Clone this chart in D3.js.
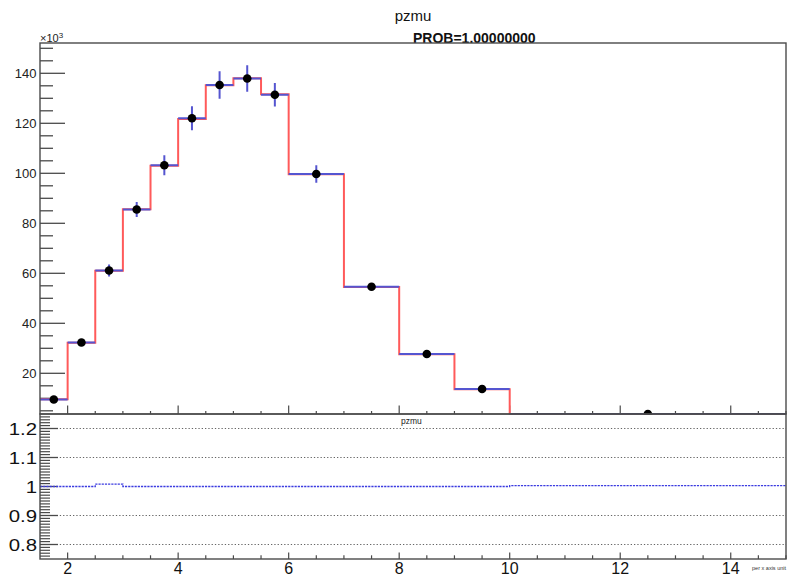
<!DOCTYPE html>
<html>
<head>
<meta charset="utf-8">
<script src="https://cdn.jsdelivr.net/npm/d3@7"></script>
<style>
  html, body { margin: 0; padding: 0; background: #fff; }
  svg { display: block; font-family: "Liberation Sans", Arial, Helvetica, sans-serif; }
</style>
</head>
<body>
<svg id="chart" width="788" height="577"></svg>
<script>
// ---------------- data ----------------
const binEdges   = [1.5, 2, 2.5, 3, 3.5, 4, 4.5, 5, 5.5, 6, 7, 8, 9, 10, 15];
const mcValues   = [9.6, 32.2, 61.0, 85.6, 103.0, 121.7, 135.2, 138.0, 131.6, 99.6, 54.5, 27.6, 13.6, 3.7]; // x10^3
const dataValues = [9.5, 32.3, 61.1, 85.5, 103.2, 122.0, 135.3, 137.9, 131.4, 99.7, 54.6, 27.7, 13.7, 3.7]; // x10^3
const dataErrors = [0.4, 1.3, 2.4, 3.0, 4.0, 4.8, 5.5, 5.3, 4.7, 3.5, 1.2, 0.6, 0.3, 0.1];
const ratioValues = [1.0, 1.0, 1.008, 1.0, 1.0, 1.0, 1.0, 1.0, 1.0, 1.0, 1.0, 1.0, 1.0, 1.003];
const upperYTicks = [20, 40, 60, 80, 100, 120, 140];
const lowerYTicks = [0.8, 0.9, 1, 1.1, 1.2];
const xTickLabels = [2, 4, 6, 8, 10, 12, 14];
const gridValues = [0.8, 0.9, 1.1, 1.2];

// ---------------- layout ----------------
const svg = d3.select("#chart");
const L = 40, R = 786;
const upTop = 43, upBot = 414, loTop = 414, loBot = 559;

const x = d3.scaleLinear().domain([1.5, 15]).range([L, R]);
const yUp = d3.scaleLinear().domain([3.72, 152.12]).range([upBot, upTop]);
const yLo = d3.scaleLinear().domain([0.75, 1.25]).range([loBot, loTop]);

const axisColor = "#4a4a4a";
const red = "#ff5a5a";
const blue = "#5555d0";

// clip paths
const defs = svg.append("defs");
defs.append("clipPath").attr("id", "clipUp").append("rect")
  .attr("x", L).attr("y", upTop).attr("width", R - L).attr("height", upBot - upTop + 0.5);
defs.append("clipPath").attr("id", "clipLo").append("rect")
  .attr("x", L).attr("y", loTop).attr("width", R - L).attr("height", loBot - loTop);

// ---------------- titles ----------------
svg.append("text").attr("x", 413).attr("y", 21).attr("text-anchor", "middle")
  .attr("font-size", 15).attr("fill", "#111").text("pzmu");
svg.append("text").attr("x", 413).attr("y", 42.5)
  .attr("font-size", 14).attr("font-weight", "bold").attr("fill", "#111").text("PROB=1.00000000");
const mult = svg.append("text").attr("x", 40).attr("y", 41.5).attr("font-size", 11).attr("fill", "#222");
mult.append("tspan").text("\u00d710");
mult.append("tspan").attr("font-size", 8).attr("dy", -4).text("3");

// ---------------- upper pad ----------------
const gUp = svg.append("g");

const upMinor = d3.range(5, 151, 5).filter(v => v % 20 !== 0);
gUp.selectAll("line.ymin").data(upMinor).enter().append("line")
  .attr("x1", L).attr("x2", L + 13).attr("y1", d => yUp(d)).attr("y2", d => yUp(d))
  .attr("stroke", axisColor).attr("stroke-width", 1.3);
gUp.selectAll("line.ymaj").data(upperYTicks).enter().append("line")
  .attr("x1", L).attr("x2", L + 25).attr("y1", d => yUp(d)).attr("y2", d => yUp(d))
  .attr("stroke", axisColor).attr("stroke-width", 1.3);
gUp.selectAll("text.ylab").data(upperYTicks).enter().append("text")
  .attr("x", 36.5).attr("y", d => yUp(d) + 4.5).attr("text-anchor", "end")
  .attr("font-size", 13).attr("fill", "#222").text(d => d);

const xMinor = d3.range(2, 15.01, 0.5).filter(v => v % 2 !== 0);
gUp.selectAll("line.xmin").data(xMinor).enter().append("line")
  .attr("x1", d => x(d)).attr("x2", d => x(d)).attr("y1", upBot).attr("y2", upBot - 3)
  .attr("stroke", axisColor).attr("stroke-width", 1.2);
gUp.selectAll("line.xmaj").data(xTickLabels).enter().append("line")
  .attr("x1", d => x(d)).attr("x2", d => x(d)).attr("y1", upBot).attr("y2", upBot - 8.5)
  .attr("stroke", axisColor).attr("stroke-width", 1.2);

const plotUp = gUp.append("g").attr("clip-path", "url(#clipUp)");
let mcPath = d3.path();
mcValues.forEach((v, i) => {
  if (i === 0) mcPath.moveTo(x(binEdges[0]), yUp(v));
  else mcPath.lineTo(x(binEdges[i]), yUp(v));
  mcPath.lineTo(x(binEdges[i + 1]), yUp(v));
});
plotUp.append("path").attr("d", mcPath.toString()).attr("fill", "none")
  .attr("stroke", red).attr("stroke-width", 2);

const bins = dataValues.map((v, i) => ({
  lo: binEdges[i], hi: binEdges[i + 1], c: (binEdges[i] + binEdges[i + 1]) / 2, v, e: dataErrors[i]
}));
plotUp.selectAll("line.xerr").data(bins).enter().append("line")
  .attr("x1", d => x(d.lo)).attr("x2", d => x(d.hi)).attr("y1", d => yUp(d.v)).attr("y2", d => yUp(d.v))
  .attr("stroke", blue).attr("stroke-width", 2);
plotUp.selectAll("line.yerr").data(bins).enter().append("line")
  .attr("x1", d => x(d.c)).attr("x2", d => x(d.c)).attr("y1", d => yUp(d.v - d.e)).attr("y2", d => yUp(d.v + d.e))
  .attr("stroke", blue).attr("stroke-width", 2);
plotUp.selectAll("circle.pt").data(bins).enter().append("circle")
  .attr("cx", d => x(d.c)).attr("cy", d => yUp(d.v)).attr("r", 4.3).attr("fill", "#000");

gUp.append("rect").attr("x", L).attr("y", upTop).attr("width", R - L).attr("height", upBot - upTop)
  .attr("fill", "none").attr("stroke", axisColor).attr("stroke-width", 1.4);

// ---------------- lower pad ----------------
const gLo = svg.append("g");
gLo.selectAll("line.grid").data(gridValues).enter().append("line")
  .attr("x1", L).attr("x2", R).attr("y1", d => yLo(d)).attr("y2", d => yLo(d))
  .attr("stroke", "#666").attr("stroke-width", 1).attr("stroke-dasharray", "1.3,2");

const loMinor = d3.range(76, 125).map(v => v / 100).filter(v => Math.abs(v * 10 - Math.round(v * 10)) > 1e-6);
gLo.selectAll("line.ymin").data(loMinor).enter().append("line")
  .attr("x1", L).attr("x2", L + 10).attr("y1", d => yLo(d)).attr("y2", d => yLo(d))
  .attr("stroke", axisColor).attr("stroke-width", 1.2);
gLo.selectAll("line.ymaj").data(lowerYTicks).enter().append("line")
  .attr("x1", L).attr("x2", L + 18).attr("y1", d => yLo(d)).attr("y2", d => yLo(d))
  .attr("stroke", axisColor).attr("stroke-width", 1.3);
gLo.selectAll("text.ylab").data(lowerYTicks).enter().append("text")
  .attr("transform", d => `translate(37,${yLo(d) + 6}) scale(1.2,1)`)
  .attr("text-anchor", "end").attr("font-size", 17).attr("fill", "#111").text(d => d);

gLo.selectAll("line.xmin").data(xMinor).enter().append("line")
  .attr("x1", d => x(d)).attr("x2", d => x(d)).attr("y1", loBot).attr("y2", loBot - 3.7)
  .attr("stroke", axisColor).attr("stroke-width", 1.2);
gLo.selectAll("line.xmaj").data(xTickLabels).enter().append("line")
  .attr("x1", d => x(d)).attr("x2", d => x(d)).attr("y1", loBot).attr("y2", loBot - 6.5)
  .attr("stroke", axisColor).attr("stroke-width", 1.2);
gLo.selectAll("text.xlab").data(xTickLabels).enter().append("text")
  .attr("x", d => x(d)).attr("y", 574).attr("text-anchor", "middle")
  .attr("font-size", 16).attr("fill", "#111").text(d => d);

const plotLo = gLo.append("g").attr("clip-path", "url(#clipLo)");
let rPath = d3.path();
ratioValues.forEach((v, i) => {
  if (i === 0) rPath.moveTo(x(binEdges[0]), yLo(v));
  else rPath.lineTo(x(binEdges[i]), yLo(v));
  rPath.lineTo(x(binEdges[i + 1]), yLo(v));
});
plotLo.append("path").attr("d", rPath.toString()).attr("fill", "none")
  .attr("stroke", "#3b3be0").attr("stroke-width", 1.3).attr("stroke-dasharray", "2.2,1");

gLo.append("rect").attr("x", L).attr("y", loTop).attr("width", R - L).attr("height", loBot - loTop)
  .attr("fill", "none").attr("stroke", axisColor).attr("stroke-width", 1.4);

gLo.append("text").attr("x", 401).attr("y", 424).attr("font-size", 8.5).attr("fill", "#222").text("pzmu");
svg.append("text").attr("x", 786).attr("y", 570).attr("text-anchor", "end")
  .attr("font-size", 5.5).attr("fill", "#333").text("per x axis unit");
</script>
</body>
</html>
